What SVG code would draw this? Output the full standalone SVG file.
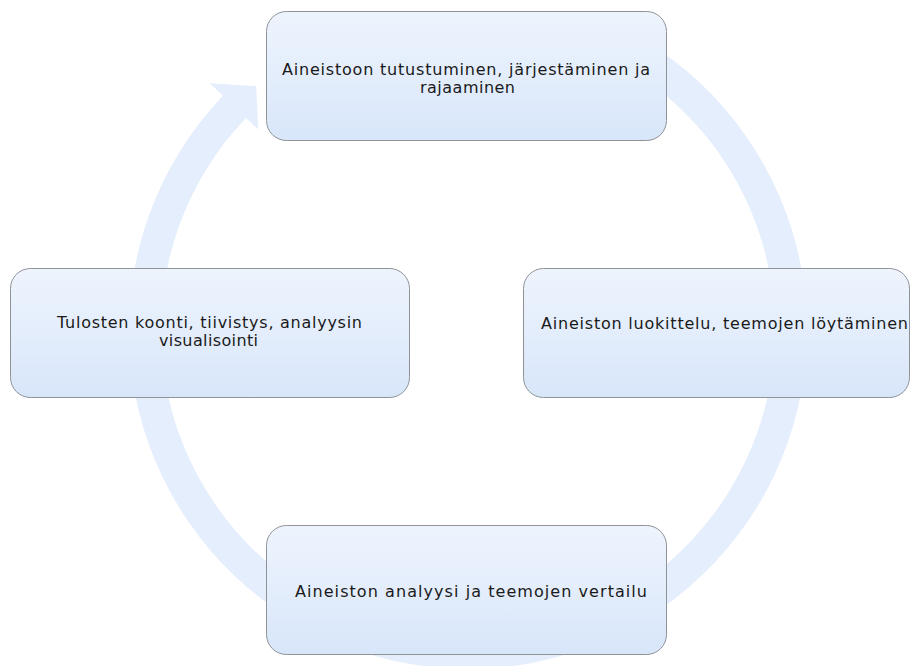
<svg xmlns="http://www.w3.org/2000/svg" width="911" height="666" viewBox="0 0 911 666">
  <style>
    .box { fill: url(#boxGrad); stroke: #8f9398; stroke-width: 1; }
    .lbl { font-family: "DejaVu Sans", "Liberation Sans", sans-serif; font-size: 16px; fill: #1a1a1a; }
    .ring { fill: #e5eefc; stroke: none; }
  </style>
  <defs>
    <linearGradient id="boxGrad" x1="0" y1="0" x2="0" y2="1">
      <stop offset="0" stop-color="#eef4fd"/>
      <stop offset="1" stop-color="#d8e6fa"/>
    </linearGradient>
  </defs>
  <rect width="911" height="666" fill="#ffffff"/>
  <g id="connectors">
    <path class="ring" d="M 611.3 22.8 A 339 339 0 1 1 222.9 95.8 L 209.9 83.3 L 256.1 86.2 L 258.3 129.6 L 246.0 117.9 A 307 307 0 1 0 597.7 51.8 Z"/>
  </g>
  <g id="node-top">
    <rect class="box" x="266.5" y="11.5" width="400" height="129" rx="20" ry="20"/>
    <text class="lbl" x="282" y="75" textLength="368" lengthAdjust="spacing">Aineistoon tutustuminen, järjestäminen ja</text>
    <text class="lbl" x="420" y="93" textLength="95" lengthAdjust="spacing">rajaaminen</text>
  </g>
  <g id="node-right">
    <rect class="box" x="523.5" y="268.5" width="386" height="129" rx="20" ry="20"/>
    <text class="lbl" x="541" y="329" textLength="367" lengthAdjust="spacing">Aineiston luokittelu, teemojen löytäminen</text>
  </g>
  <g id="node-bottom">
    <rect class="box" x="266.5" y="525.5" width="400" height="129" rx="20" ry="20"/>
    <text class="lbl" x="295" y="597" textLength="352" lengthAdjust="spacing">Aineiston analyysi ja teemojen vertailu</text>
  </g>
  <g id="node-left">
    <rect class="box" x="10.5" y="268.5" width="399" height="129" rx="20" ry="20"/>
    <text class="lbl" x="57" y="328" textLength="305" lengthAdjust="spacing">Tulosten koonti, tiivistys, analyysin</text>
    <text class="lbl" x="159" y="346" textLength="99" lengthAdjust="spacing">visualisointi</text>
  </g>
</svg>
